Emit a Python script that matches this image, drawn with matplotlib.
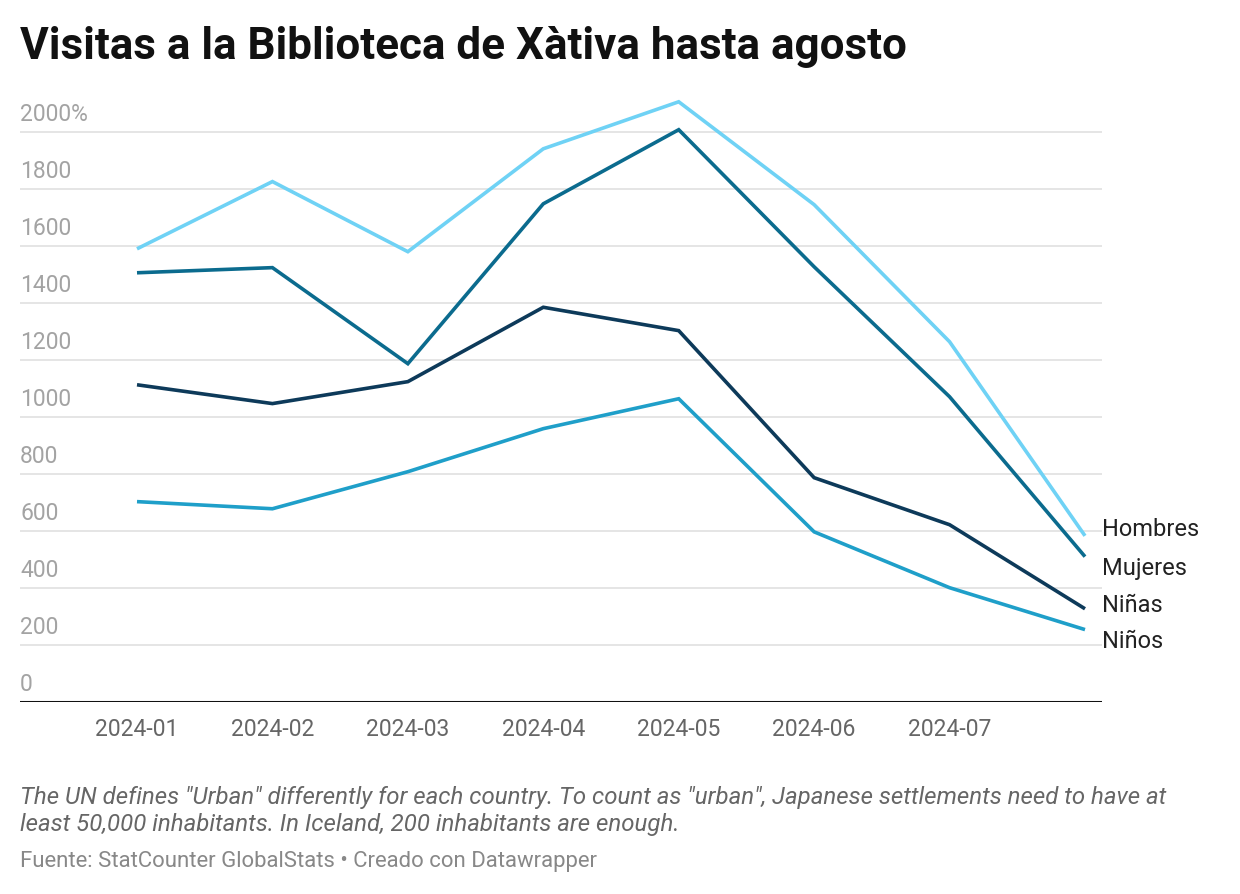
import matplotlib
matplotlib.use("Agg")
import matplotlib.pyplot as plt
import matplotlib.transforms as mtransforms

plt.rcParams["font.family"] = ["Roboto", "DejaVu Sans"]

months = ["2024-01", "2024-02", "2024-03", "2024-04", "2024-05",
          "2024-06", "2024-07", "2024-08"]
tick_labels = ["2024-01", "2024-02", "2024-03", "2024-04", "2024-05",
               "2024-06", "2024-07", ""]
hombres = [1589, 1825, 1579, 1940, 2105, 1744, 1263, 582]
mujeres = [1505, 1523, 1186, 1747, 2007, 1526, 1070, 509]
ninas = [1112, 1046, 1123, 1384, 1302, 786, 621, 326]
ninos = [702, 677, 807, 958, 1063, 596, 400, 253]
y_ticks = [0, 200, 400, 600, 800, 1000, 1200, 1400, 1600, 1800, 2000]

series = [
    ("Hombres", hombres, "#6fd2f5"),
    ("Mujeres", mujeres, "#0b6b8e"),
    ("Niñas", ninas, "#0d3a5a"),
    ("Niños", ninos, "#1f9fc9"),
]
label_y = [530, 568, 605, 642]  # pixel rows of the end labels

W, H = 1240, 894
fig = plt.figure(figsize=(W / 100, H / 100), dpi=100)
x0_px, x7_px = 137, 1085
step = (x7_px - x0_px) / 7
left_px, right_px = 20, 1102
base_px, top_px = 701.7, 74.7
ax = fig.add_axes([left_px / W, 1 - base_px / H,
                   (right_px - left_px) / W, (base_px - top_px) / H])
ax.set_xlim((left_px - x0_px) / step, (right_px - x0_px) / step)
ax.set_ylim(0, 2200)

xs = list(range(len(months)))
for name, vals, col in series:
    ax.plot(xs, vals, color=col, lw=2.6, solid_joinstyle="miter",
            solid_capstyle="butt", zorder=3)

# gridlines + y labels sitting just above them
blend = mtransforms.blended_transform_factory(ax.transAxes, ax.transData)
for v in y_ticks:
    if v > 0:
        ax.axhline(v, color="#e0e0e0", lw=1.2, zorder=1)
    lab = f"{v}%" if v == 2000 else f"{v}"
    ax.text(0, v + 36, lab, transform=blend, ha="left", va="baseline",
            fontsize=16.5, color="#a3a3a3")
ax.axhline(0, color="#111111", lw=2.2, zorder=4)

for s in ax.spines.values():
    s.set_visible(False)
ax.set_yticks([])
ax.set_xticks(xs)
ax.set_xticklabels(tick_labels, fontsize=16.5, color="#666666")
ax.tick_params(axis="x", length=0, pad=12)

for (name, vals, col), ly in zip(series, label_y):
    fig.text(1102 / W, 1 - ly / H, name, ha="left", va="center",
             fontsize=17, color="#222222")

fig.text(20 / W, 1 - 47 / H, "Visitas a la Biblioteca de Xàtiva hasta agosto",
         ha="left", va="center", fontsize=31.7, fontweight="bold",
         color="#111111")
fig.text(20 / W, 1 - 811 / H,
         "The UN defines \"Urban\" differently for each country. To count as \"urban\", "
         "Japanese settlements need to have at\nleast 50,000 inhabitants. "
         "In Iceland, 200 inhabitants are enough.",
         ha="left", va="center", fontsize=17.3, style="italic",
         color="#666666", linespacing=1.2)
fig.text(20 / W, 1 - 861 / H,
         "Fuente: StatCounter GlobalStats • Creado con Datawrapper",
         ha="left", va="center", fontsize=15.9, color="#888888")

fig.savefig("out.png", dpi=100, facecolor="white")
